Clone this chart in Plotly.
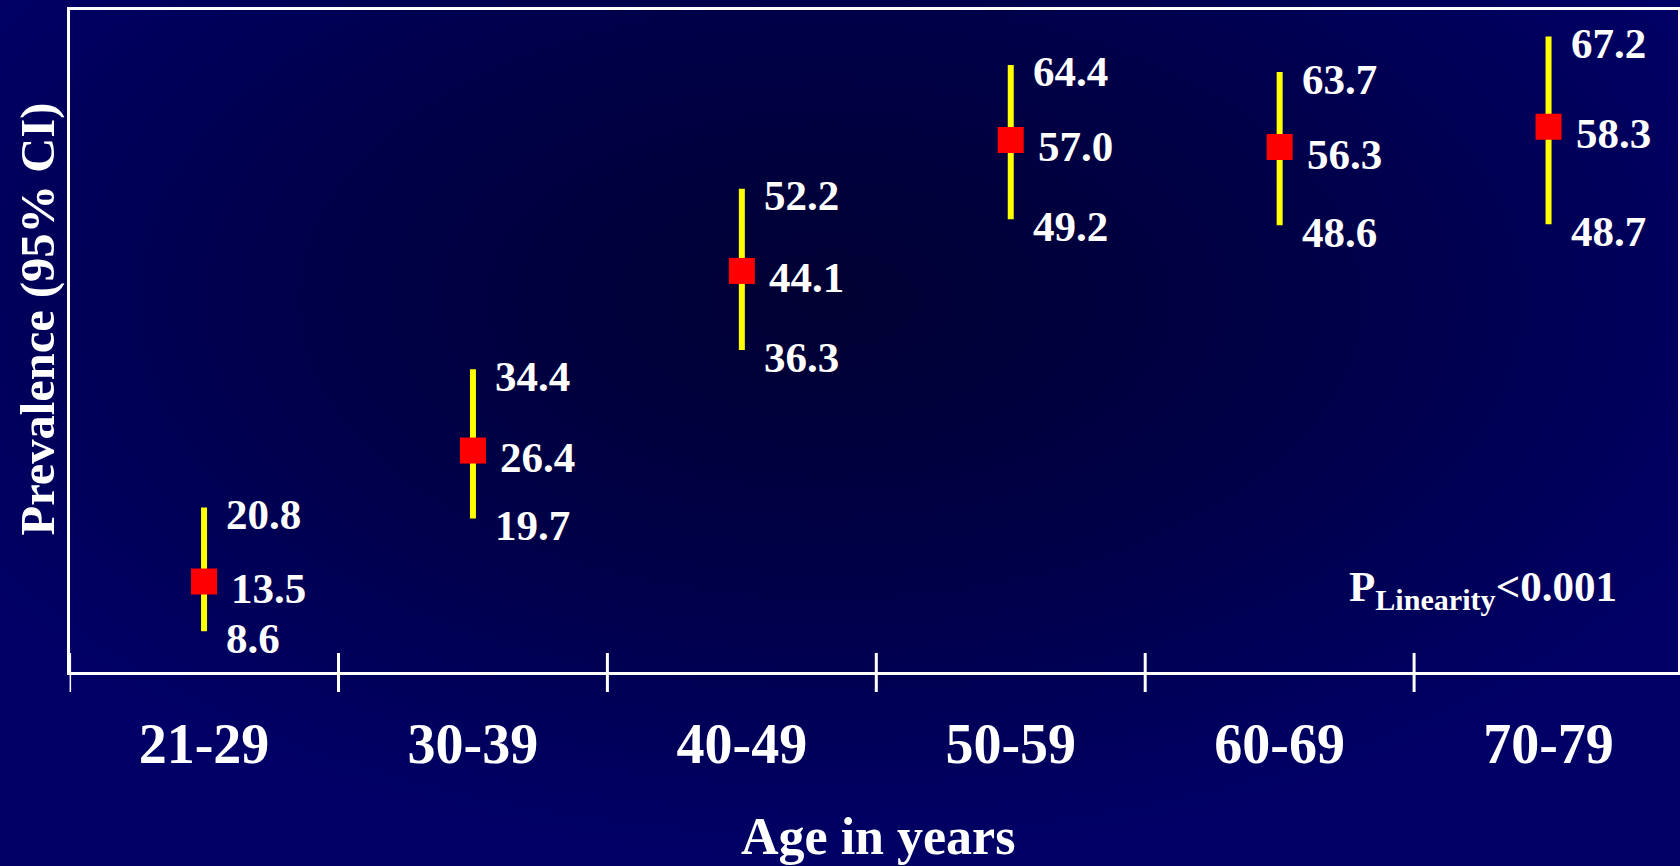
import base64
import plotly.graph_objects as go

# ---- data ----
age_groups = ["21-29", "30-39", "40-49", "50-59", "60-69", "70-79"]
prevalence = [13.5, 26.4, 44.1, 57.0, 56.3, 58.3]
ci_lower = [8.6, 19.7, 36.3, 49.2, 48.6, 48.7]
ci_upper = [20.8, 34.4, 52.2, 64.4, 63.7, 67.2]
x_title = "Age in years"
y_title = "Prevalence (95% CI)"
p_text = "P<sub>Linearity</sub>&lt;0.001"

# ---- geometry (pixels) ----
W, H = 1680, 866
left_px, right_px, top_px, bottom_px = 69.6, 1678.3, 10, 672
cat_w = 268.9
x_range = [-0.5, -0.5 + (right_px - left_px) / cat_w]
y_range = [4.58, 69.81]

FONT = "Liberation Serif"

def py(px):
    return 1 - px / H

def pxx(px):
    return px / W

# background radial gradient as svg
svg = f'''<svg xmlns="http://www.w3.org/2000/svg" width="{W}" height="{H}" viewBox="0 0 {W} {H}">
<defs><radialGradient id="g" gradientUnits="userSpaceOnUse" cx="0" cy="0" r="1"
 gradientTransform="translate(830 300) scale(1000 560)">
<stop offset="0" stop-color="#000032"/>
<stop offset="0.5" stop-color="#000048"/>
<stop offset="1" stop-color="#000066"/>
</radialGradient></defs>
<rect x="0" y="0" width="{W}" height="{H}" fill="url(#g)"/></svg>'''
bg_src = "data:image/svg+xml;base64," + base64.b64encode(svg.encode()).decode()

err_plus = [u - m for u, m in zip(ci_upper, prevalence)]
err_minus = [m - l for m, l in zip(prevalence, ci_lower)]

fig = go.Figure()
fig.add_trace(go.Scatter(
    x=age_groups, y=prevalence, mode="markers",
    marker=dict(symbol="square", size=26, color="#FF0000", line=dict(width=0)),
    error_y=dict(type="data", array=err_plus, arrayminus=err_minus,
                 color="#FFFF00", thickness=6, width=0, symmetric=False),
    showlegend=False, hoverinfo="skip",
))

annotations = []
lab_font = dict(family=FONT, size=43, color="white", weight="bold")
for cat, m, lo, hi in zip(age_groups, prevalence, ci_lower, ci_upper):
    for val, xs in ((hi, 20), (m, 25), (lo, 20)):
        annotations.append(dict(
            x=cat, y=val, xref="x", yref="y", text=f"{val:.1f}",
            showarrow=False, xanchor="left", yanchor="middle",
            xshift=xs, yshift=-7, font=lab_font))

annotations.append(dict(
    x=pxx(877.5), y=py(836), xref="paper", yref="paper", text=x_title,
    showarrow=False, xanchor="center", yanchor="middle",
    font=dict(family=FONT, size=52, color="white", weight="bold")))
annotations.append(dict(
    x=pxx(37.5), y=py(319), xref="paper", yref="paper", text=y_title,
    showarrow=False, xanchor="center", yanchor="middle", textangle=-90,
    font=dict(family=FONT, size=48.5, color="white", weight="bold")))
annotations.append(dict(
    x=pxx(1347), y=py(590), xref="paper", yref="paper", text=p_text,
    showarrow=False, xanchor="left", yanchor="middle",
    font=dict(family=FONT, size=43, color="white", weight="bold")))

shapes = []
for i in range(len(age_groups) + 1):
    b = i - 0.5
    shapes.append(dict(type="line", xref="x", yref="paper", x0=b, x1=b,
                       y0=py(653), y1=py(692),
                       line=dict(color="white", width=3)))

fig.update_layout(
    width=W, height=H,
    margin=dict(l=0, r=0, t=0, b=0, autoexpand=False),
    paper_bgcolor="#00005a",
    plot_bgcolor="rgba(0,0,0,0)",
    images=[dict(source=bg_src, xref="paper", yref="paper", x=0, y=1,
                 sizex=1, sizey=1, sizing="stretch", layer="below",
                 xanchor="left", yanchor="top")],
    xaxis=dict(
        domain=[pxx(left_px), pxx(right_px)], range=x_range,
        type="category", categoryorder="array", categoryarray=age_groups,
        showline=True, mirror=True, linecolor="white", linewidth=3,
        showgrid=False, zeroline=False, ticks="", automargin=False,
        tickfont=dict(family=FONT, size=56, color="white", weight="bold"),
        ticklabelstandoff=21,
    ),
    yaxis=dict(
        domain=[py(bottom_px), py(top_px)], range=y_range,
        showline=True, mirror=True, linecolor="white", linewidth=3,
        showgrid=False, zeroline=False, showticklabels=False, ticks="",
        automargin=False,
    ),
    annotations=annotations,
    shapes=shapes,
)

fig.write_html(
    "out.html",
    config={"displayModeBar": False},
    post_script="document.body.style.margin='0px';document.body.style.overflow='hidden';",
)
